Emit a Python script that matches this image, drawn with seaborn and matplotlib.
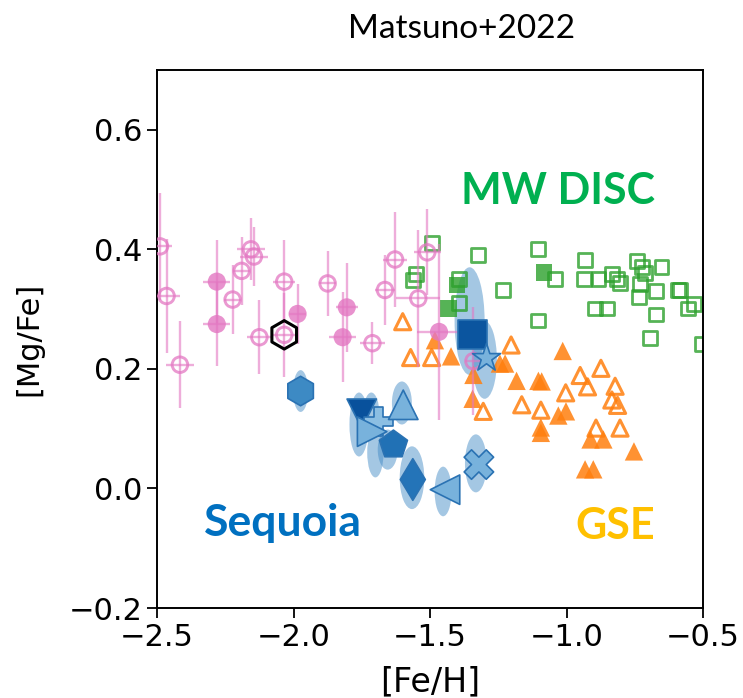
import numpy as np
import pandas as pd
import matplotlib
matplotlib.use("Agg")
import matplotlib.pyplot as plt
from matplotlib.patches import Ellipse
import seaborn as sns

# ---------------- data ----------------
# Milky Way disc stars (open and filled squares)
disc_open_feh = [-1.492, -1.323, -1.551, -1.563, -1.394, -1.393, -1.232, -1.103, -1.042,
                 -1.103, -0.932, -0.935, -0.883, -0.835, -0.815, -0.804, -0.896, -0.853,
                 -0.743, -0.722, -0.713, -0.731, -0.733, -0.672, -0.652, -0.672, -0.694,
                 -0.591, -0.584, -0.554, -0.533, -0.505]
disc_open_mgfe = [0.411, 0.391, 0.359, 0.349, 0.350, 0.310, 0.332, 0.401, 0.350,
                  0.281, 0.382, 0.350, 0.350, 0.359, 0.350, 0.343, 0.301, 0.301,
                  0.380, 0.370, 0.361, 0.342, 0.321, 0.331, 0.371, 0.291, 0.251,
                  0.332, 0.332, 0.301, 0.309, 0.242]
disc_fill_feh = [-1.402, -1.433, -1.082]
disc_fill_mgfe = [0.340, 0.301, 0.361]

# Gaia-Sausage-Enceladus stars (open and filled triangles)
gse_open_feh = [-1.600, -1.571, -1.494, -1.203, -1.305, -1.164, -1.094, -1.003, -0.950,
                -0.874, -0.923, -0.822, -0.834, -0.813, -0.892, -0.804]
gse_open_mgfe = [0.279, 0.219, 0.219, 0.240, 0.129, 0.140, 0.131, 0.160, 0.189,
                 0.201, 0.170, 0.171, 0.148, 0.139, 0.101, 0.101]
gse_fill_feh = [-1.482, -1.423, -1.244, -1.225, -1.341, -1.344, -1.014, -1.183, -1.103,
                -1.091, -1.002, -1.030, -1.094, -1.094, -0.912, -0.865, -0.753, -0.932,
                -0.902]
gse_fill_mgfe = [0.248, 0.221, 0.209, 0.209, 0.190, 0.150, 0.230, 0.180, 0.180,
                 0.179, 0.129, 0.122, 0.102, 0.093, 0.082, 0.082, 0.062, 0.032,
                 0.032]

# Matsuno+2022 sample with uncertainties
mat_open_feh = [-2.489, -2.465, -2.416, -2.223, -2.190, -2.156, -2.145, -2.125, -2.034,
                -2.034, -1.875, -1.711, -1.665, -1.628, -1.543, -1.510, -1.341]
mat_open_mgfe = [0.405, 0.322, 0.207, 0.316, 0.364, 0.400, 0.388, 0.253, 0.346,
                 0.257, 0.343, 0.243, 0.332, 0.383, 0.318, 0.395, 0.213]
mat_open_xerr = [0.045, 0.05, 0.05, 0.03, 0.03, 0.05, 0.05, 0.045, 0.04,
                 0.04, 0.03, 0.045, 0.035, 0.045, 0.08, 0.05, 0.03]
mat_open_yerr = [0.09, 0.095, 0.073, 0.057, 0.057, 0.052, 0.05, 0.062, 0.07,
                 0.07, 0.055, 0.035, 0.058, 0.08, 0.115, 0.072, 0.09]
mat_fill_feh = [-2.281, -2.281, -1.985, -1.805, -1.820, -1.467]
mat_fill_mgfe = [0.346, 0.275, 0.292, 0.303, 0.253, 0.262]
mat_fill_xerr = [0.05, 0.05, 0.03, 0.04, 0.05, 0.08]
mat_fill_yerr = [0.07, 0.07, 0.05, 0.075, 0.075, 0.147]

# highlighted star
hex_feh = [-2.034]
hex_mgfe = [0.257]

# Sequoia stars, each with its own symbol and error ellipse
seq_name = ["s1", "s2", "s3", "s4", "s5", "s6", "s7", "s8", "s9", "s10", "s11"]
seq_feh = [-1.345, -1.293, -1.974, -1.750, -1.689, -1.712, -1.598, -1.634, -1.563, -1.445, -1.321]
seq_mgfe = [0.258, 0.218, 0.163, 0.125, 0.112, 0.095, 0.140, 0.073, 0.015, -0.002, 0.040]
seq_ell_feh = [-1.355, -1.300, -1.974, -1.760, -1.715, -1.700, -1.603, -1.655, -1.566, -1.452, -1.332]
seq_ell_mgfe = [0.280, 0.215, 0.163, 0.107, 0.123, 0.060, 0.143, 0.065, 0.018, -0.005, 0.042]
seq_ell_w = [0.11, 0.09, 0.055, 0.07, 0.06, 0.06, 0.073, 0.073, 0.09, 0.062, 0.08]
seq_ell_h = [0.18, 0.13, 0.07, 0.107, 0.075, 0.083, 0.072, 0.067, 0.105, 0.083, 0.097]
seq_marker = ["s", "*", "h", "v", "P", ">", "^", "p", "d", "<", "X"]
seq_color = ["#0b559f", "#78b2dc", "#3d8ac4", "#08519c", "#8cbfe3", "#78b2dc",
             "#78b2dc", "#2171b5", "#2474b8", "#78b2dc", "#78b2dc"]

x_ticks = [-2.5, -2.0, -1.5, -1.0, -0.5]
y_ticks = [-0.2, 0.0, 0.2, 0.4, 0.6]

# ---------------- style ----------------
sns.set_theme(style="ticks")
plt.rcParams["font.family"] = ["DejaVu Sans"]
plt.rcParams["xtick.direction"] = "out"
plt.rcParams["ytick.direction"] = "out"

PINK = "#e377c2"
GREEN = "#2ca02c"
ORANGE = "#ff7f0e"

fig = plt.figure(figsize=(7.43, 6.98), dpi=100)
ax = fig.add_axes([0.2113, 0.1289, 0.7349, 0.7708])

# error ellipses of the Sequoia stars (drawn underneath everything)
for ex, ey, ew, eh in zip(seq_ell_feh, seq_ell_mgfe, seq_ell_w, seq_ell_h):
    ax.add_patch(Ellipse((ex, ey), ew, eh, facecolor="#3f88c5", edgecolor="none",
                         alpha=0.47, zorder=1))

disc_open = pd.DataFrame({"feh": disc_open_feh, "mgfe": disc_open_mgfe})
disc_fill = pd.DataFrame({"feh": disc_fill_feh, "mgfe": disc_fill_mgfe})
gse_open = pd.DataFrame({"feh": gse_open_feh, "mgfe": gse_open_mgfe})
gse_fill = pd.DataFrame({"feh": gse_fill_feh, "mgfe": gse_fill_mgfe})

sns.scatterplot(data=disc_open, x="feh", y="mgfe", marker="s", s=100, color=GREEN,
                facecolor="none", edgecolor=GREEN, linewidth=2.0, alpha=0.8, ax=ax, zorder=2)
sns.scatterplot(data=disc_fill, x="feh", y="mgfe", marker="s", s=140, color=GREEN,
                edgecolor="none", linewidth=0, alpha=0.8, ax=ax, zorder=2)
sns.scatterplot(data=gse_open, x="feh", y="mgfe", marker="^", s=135, color=ORANGE,
                facecolor="none", edgecolor=ORANGE, linewidth=2.2, alpha=0.85, ax=ax, zorder=2)
sns.scatterplot(data=gse_fill, x="feh", y="mgfe", marker="^", s=175, color=ORANGE,
                edgecolor="none", linewidth=0, alpha=0.85, ax=ax, zorder=2)

# Matsuno+2022 stars with error bars
ax.errorbar(mat_open_feh, mat_open_mgfe, xerr=mat_open_xerr, yerr=mat_open_yerr,
            fmt="none", ecolor=PINK, elinewidth=1.7, alpha=0.6, zorder=3)
ax.errorbar(mat_fill_feh, mat_fill_mgfe, xerr=mat_fill_xerr, yerr=mat_fill_yerr,
            fmt="none", ecolor=PINK, elinewidth=1.7, alpha=0.6, zorder=3)
mat_open = pd.DataFrame({"feh": mat_open_feh, "mgfe": mat_open_mgfe})
mat_fill = pd.DataFrame({"feh": mat_fill_feh, "mgfe": mat_fill_mgfe})
sns.scatterplot(data=mat_open, x="feh", y="mgfe", marker="o", s=125, color=PINK,
                facecolor="none", edgecolor=PINK, linewidth=2.1, alpha=0.75, ax=ax, zorder=3)
sns.scatterplot(data=mat_fill, x="feh", y="mgfe", marker="o", s=170, color=PINK,
                edgecolor="none", linewidth=0, alpha=0.8, ax=ax, zorder=3)
sns.scatterplot(x=hex_feh, y=hex_mgfe, marker="h", s=420, color="black",
                facecolor="none", edgecolor="black", linewidth=2.2, ax=ax, zorder=4)

# Sequoia stars
seq = pd.DataFrame({"name": seq_name, "feh": seq_feh, "mgfe": seq_mgfe})
sns.scatterplot(data=seq, x="feh", y="mgfe", hue="name", style="name",
                palette=dict(zip(seq_name, seq_color)),
                markers=dict(zip(seq_name, seq_marker)),
                s=450, edgecolor="#2a72b3", linewidth=1.2, legend=False, ax=ax, zorder=5)

ax.set_xlim(-2.5, -0.5)
ax.set_ylim(-0.2, 0.7)
ax.set_xticks(x_ticks)
ax.set_yticks(y_ticks)
ax.set_xticklabels([f"{t:.1f}".replace("-", "\u2212") for t in x_ticks])
ax.set_yticklabels([f"{t:.1f}".replace("-", "\u2212") for t in y_ticks])
ax.tick_params(labelsize=22, length=7, width=1.3, color="black", labelcolor="black")
for sp in ax.spines.values():
    sp.set_visible(True)
    sp.set_color("black")
    sp.set_linewidth(1.4)
ax.set_xlabel("[Fe/H]", fontsize=24, labelpad=10, color="black")
ax.set_ylabel("[Mg/Fe]", fontsize=22, labelpad=18, color="black")

# group labels
ax.text(-1.031, 0.498, "MW DISC", color="#00b050", fontsize=31, fontweight="bold",
        family="Lato", ha="center", va="center")
ax.text(-2.038, -0.057, "Sequoia", color="#0070c0", fontsize=32, fontweight="bold",
        family="Lato", ha="center", va="center")
ax.text(-0.822, -0.063, "GSE", color="#ffc000", fontsize=31, fontweight="bold",
        family="Lato", ha="center", va="center")

fig.text(462 / 743, 1 - 29 / 698, "Matsuno+2022", fontsize=24, family="Lato",
         ha="center", va="center", color="black")

fig.savefig("out.png", dpi=100, facecolor="white")
